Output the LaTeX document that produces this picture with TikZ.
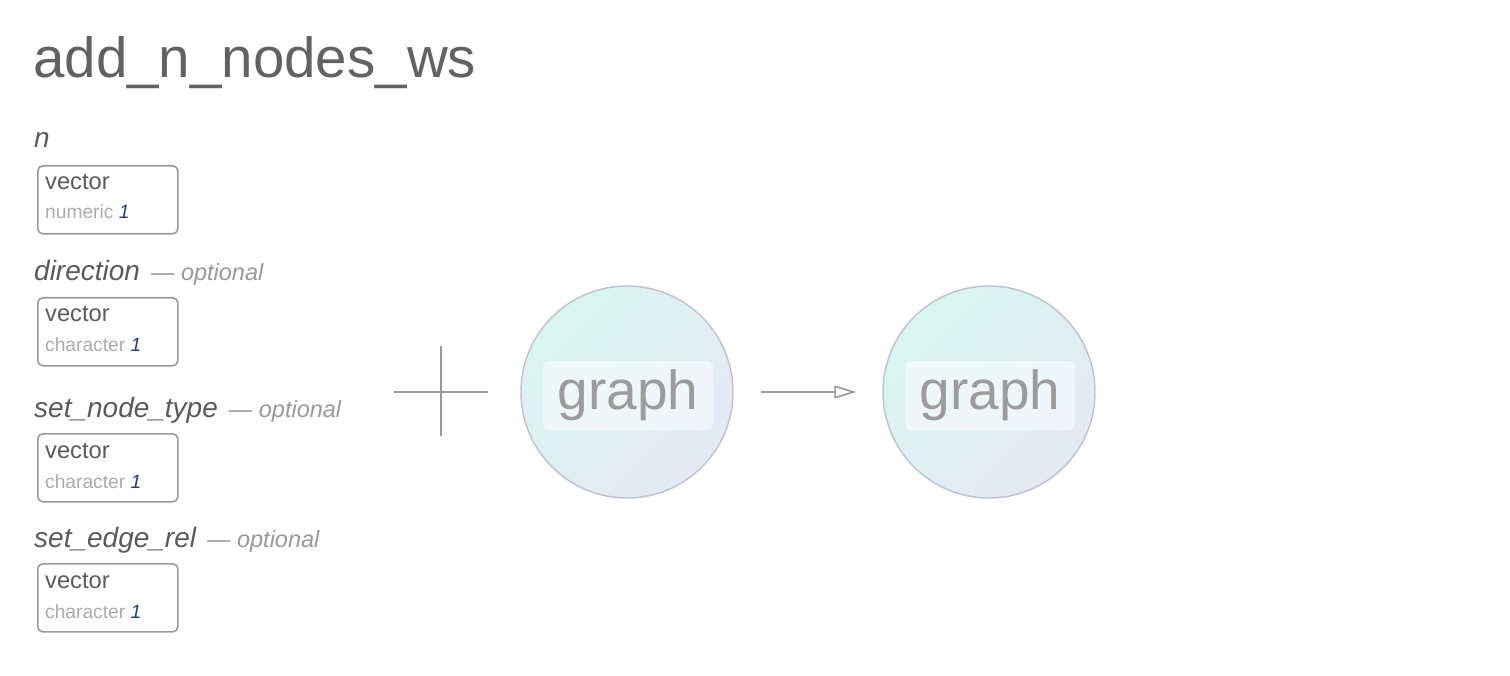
\documentclass[tikz,border=0pt]{standalone}
\usepackage{fontspec}
\setmainfont{Liberation Sans}
\usetikzlibrary{arrows.meta,shadings}
\definecolor{titlec}{HTML}{626262}
\definecolor{labc}{HTML}{5A5A5A}
\definecolor{optc}{HTML}{999999}
\definecolor{subc}{HTML}{ABABAB}
\definecolor{onec}{HTML}{1F3F7F}
\definecolor{boxc}{HTML}{9A9A9A}
\definecolor{linec}{HTML}{999999}
\definecolor{mint}{HTML}{D6F8EE}
\definecolor{lav}{HTML}{E6E6F6}
\definecolor{midc}{HTML}{DFEFF2}
\definecolor{circc}{HTML}{BEC2D0}
\definecolor{graphc}{HTML}{9C9C9C}
\begin{document}
\begin{tikzpicture}[x=1pt,y=-1pt,
  title/.style={anchor=base west,inner sep=0,text=titlec,font=\fontsize{56.5}{62}\selectfont},
  arglab/.style={anchor=base west,inner sep=0,text=labc,font=\fontsize{28}{32}\selectfont\itshape},
  typebox/.style={draw=boxc,line width=1.6pt,rounded corners=5pt,minimum width=140pt,minimum height=68pt,anchor=north west,inner sep=0},
  vec/.style={anchor=base west,inner sep=0,text=labc,font=\fontsize{23.7}{26}\selectfont},
  sub/.style={anchor=base west,inner sep=0,text=subc,font=\fontsize{19.2}{22}\selectfont},
  graphnode/.style={circle,minimum size=212pt,inner sep=0},
  glabel/.style={fill=white,fill opacity=0.5,text opacity=1,rounded corners=6pt,minimum width=170pt,minimum height=69pt,inner sep=0,text=graphc,font=\fontsize{55}{60}\selectfont},
  conn/.style={draw=linec,line width=1.6pt}
]
\useasboundingbox (0,0) rectangle (1510,676);
\node[title] (t) at (33,78) {add\_n\_nodes\_ws};

\newcommand{\optpart}{\hspace{11pt}{\color{optc}\fontsize{23.5}{26}\selectfont\itshape — optional}}
\newcommand{\onepart}{ {\color{onec}\itshape 1}}

\node[arglab] (l1) at (34,148) {n};
\node[typebox] (b1) at (37,165) {};
\node[vec] (v1) at (45,190) {vector};
\node[sub] (s1) at (45,219) {numeric\onepart};

\node[arglab] (l2) at (34,281) {direction\optpart};
\node[typebox] (b2) at (37,297) {};
\node[vec] (v2) at (45,322) {vector};
\node[sub] (s2) at (45,352) {character\onepart};

\node[arglab] (l3) at (34,417) {set\_node\_type\optpart};
\node[typebox] (b3) at (37,433) {};
\node[vec] (v3) at (45,458) {vector};
\node[sub] (s3) at (45,488) {character\onepart};

\node[arglab] (l4) at (34,547) {set\_edge\_rel\optpart};
\node[typebox] (b4) at (37,563) {};
\node[vec] (v4) at (45,588) {vector};
\node[sub] (s4) at (45,618) {character\onepart};

% plus sign
\coordinate (pc) at (441,392);
\draw[conn] ([xshift=-47pt]pc) -- ([xshift=47pt]pc);
\draw[conn] ([yshift=-44pt]pc) -- ([yshift=46pt]pc);

% graph circles
\foreach \n/\cx in {g1/627,g2/989}{
  \shade[upper left=mint,upper right=midc,lower left=midc,lower right=lav]
    (\cx,392) circle (106pt);
  \node[graphnode,draw=circc,line width=1.4pt] (\n) at (\cx,392) {};
  \node[glabel] (\n l) at (\cx+1,395.5) {graph};
}
\draw[conn,-{Triangle[open,length=22pt,width=13pt,line width=1.6pt]},shorten <=27pt,shorten >=26pt] (g1) -- (g2);
\end{tikzpicture}
\end{document}
